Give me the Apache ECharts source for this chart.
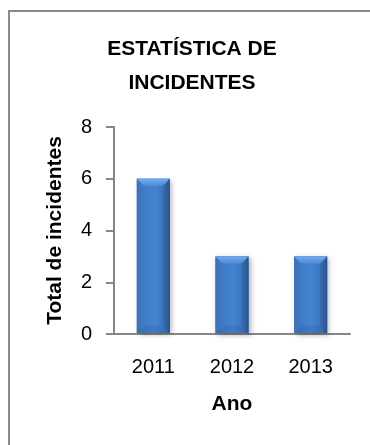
<!DOCTYPE html>
<html>
<head>
<meta charset="utf-8">
<script src="https://cdn.jsdelivr.net/npm/echarts@6/dist/echarts.min.js"></script>
<style>
html,body{margin:0;padding:0;background:#fff;}
#chart{width:370px;height:445px;}
</style>
</head>
<body>
<div id="chart"></div>
<script>
const categories = ['2011', '2012', '2013'];
const incidentes = [6, 3, 3];
const yTicks = [0, 2, 4, 6, 8];
const titleText = 'ESTATÍSTICA DE\nINCIDENTES';
const xName = 'Ano';
const yName = 'Total de incidentes';

const FONT = "'Liberation Sans Narrow', 'Arial Narrow', 'Liberation Sans', Arial, sans-serif";
const chart = echarts.init(document.getElementById('chart'), null, {renderer: 'canvas'});

function renderBar(params, api) {
  const idx = api.value(0);
  const val = api.value(1);
  const top = api.coord([idx, val]);
  const bot = api.coord([idx, 0]);
  const w = api.size([1, 0])[0] * 0.42;
  const x0 = top[0] - w / 2, x1 = top[0] + w / 2;
  const y0 = top[1], y1 = bot[1] - 1;
  const b = 7;
  return {
    type: 'group',
    children: [
      {type: 'rect', shape: {x: x0, y: y0, width: w, height: y1 - y0},
        style: {fill: '#3b72b8', shadowBlur: 5, shadowOffsetX: 2, shadowOffsetY: 2, shadowColor: 'rgba(0,0,0,0.3)'}},
      {type: 'rect', shape: {x: x0, y: y0, width: w, height: y1 - y0},
        style: {fill: new echarts.graphic.LinearGradient(0, 0, 1, 0, [
          {offset: 0, color: '#3a72b8'}, {offset: 0.25, color: '#3f7dc8'},
          {offset: 0.55, color: '#4483d0'}, {offset: 0.85, color: '#3a73ba'}, {offset: 1, color: '#2c5a96'}])}},
      {type: 'polygon', shape: {points: [[x0, y0], [x1, y0], [x1 - b, y0 + b], [x0 + b, y0 + b]]},
        style: {fill: new echarts.graphic.LinearGradient(0, 0, 0, 1, [
          {offset: 0, color: '#74acee'}, {offset: 1, color: '#4e8bd5'}])}},
      {type: 'polygon', shape: {points: [[x0, y1], [x1, y1], [x1 - b, y1 - b], [x0 + b, y1 - b]]},
        style: {fill: 'rgba(30,60,110,0.12)'}},
      {type: 'polygon', shape: {points: [[x1, y0], [x1 - b, y0 + b], [x1 - b, y1 - b], [x1, y1]]},
        style: {fill: 'rgba(20,50,100,0.18)'}}
    ]
  };
}

chart.setOption({
  backgroundColor: '#ffffff',
  animation: false,
  title: {
    text: titleText,
    left: 187, top: 27, textAlign: 'center',
    textStyle: {fontFamily: FONT, fontSize: 21, fontWeight: 'bold', color: '#000', lineHeight: 34}
  },
  graphic: [{
    type: 'polyline', shape: {points: [[9, 445], [9, 11], [370, 11]]},
    style: {fill: null, stroke: '#8a8a8a', lineWidth: 2}, silent: true, z: 100
  }],
  grid: {left: 114, right: 20, top: 127, bottom: 111, containLabel: false},
  xAxis: {
    type: 'category', data: categories,
    name: xName, nameLocation: 'middle', nameGap: 60,
    nameTextStyle: {fontFamily: FONT, fontSize: 21, fontWeight: 'bold', color: '#000'},
    axisLine: {lineStyle: {color: '#868686', width: 2}},
    axisTick: {show: false},
    axisLabel: {fontFamily: FONT, fontSize: 20, color: '#000', margin: 23}
  },
  yAxis: {
    type: 'value', min: 0, max: 8, interval: 2,
    name: yName, nameLocation: 'middle', nameGap: 48, nameRotate: 90,
    nameTextStyle: {fontFamily: FONT, fontSize: 21, fontWeight: 'bold', color: '#000'},
    axisLine: {show: true, lineStyle: {color: '#868686', width: 2}},
    axisTick: {show: true, inside: false, length: 8, lineStyle: {color: '#868686', width: 2}},
    axisLabel: {fontFamily: FONT, fontSize: 20, color: '#000', margin: 22,
      formatter: v => yTicks.includes(v) ? String(v) : ''},
    splitLine: {show: false}
  },
  series: [{
    type: 'custom',
    renderItem: renderBar,
    encode: {x: 0, y: 1},
    data: incidentes.map((v, i) => [i, v])
  }]
});
</script>
</body>
</html>
